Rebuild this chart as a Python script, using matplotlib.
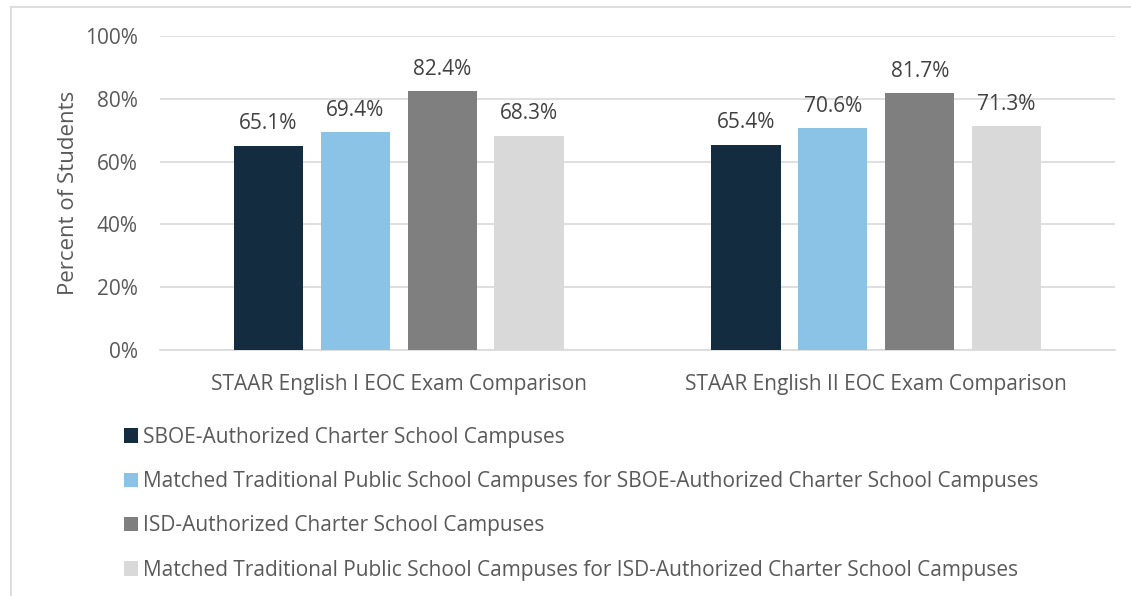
import matplotlib.pyplot as plt
from matplotlib.lines import Line2D
from matplotlib.patches import Patch
import numpy as np

plt.rcParams["font.family"] = ["Open Sans", "DejaVu Sans"]

categories = ["STAAR English I EOC Exam Comparison", "STAAR English II EOC Exam Comparison"]
series_names = [
    "SBOE-Authorized Charter School Campuses",
    "Matched Traditional Public School Campuses for SBOE-Authorized Charter School Campuses",
    "ISD-Authorized Charter School Campuses",
    "Matched Traditional Public School Campuses for ISD-Authorized Charter School Campuses",
]
sboe = [65.1, 65.4]
sboe_matched = [69.4, 70.6]
isd = [82.4, 81.7]
isd_matched = [68.3, 71.3]
yticks = [0, 20, 40, 60, 80, 100]

colors = ["#132C3F", "#8BC3E6", "#7F7F7F", "#D9D9D9"]
text_color = "#595959"
grid_color = "#D9D9D9"

W, H = 1131, 596
fig = plt.figure(figsize=(W / 100, H / 100), dpi=100)
ax = fig.add_axes([160 / W, (H - 350) / H, (1115 - 160) / W, (350 - 36) / H])

x = np.arange(len(categories))
step = 0.182
width = 0.145
all_series = [sboe, sboe_matched, isd, isd_matched]
for i, (vals, c) in enumerate(zip(all_series, colors)):
    pos = x + (i - 1.5) * step
    bars = ax.bar(pos, vals, width=width, color=c, zorder=3)
    for b, v in zip(bars, vals):
        ax.text(b.get_x() + b.get_width() / 2, v + 3.6, f"{v:.1f}%",
                ha="center", va="bottom", fontsize=15, color="#404040")

ax.set_xlim(-0.5, 1.5)
ax.set_ylim(0, 100)
ax.set_yticks(yticks)
ax.set_yticklabels([f"{t}%" for t in yticks])
ax.set_xticks(x)
ax.set_xticklabels(categories)
ax.tick_params(axis="both", length=0, labelsize=15, colors=text_color)
ax.tick_params(axis="y", pad=16)
ax.tick_params(axis="x", pad=17)
ax.grid(axis="y", color=grid_color, linewidth=1.2, zorder=0)
for s in ["top", "right", "left"]:
    ax.spines[s].set_visible(False)
ax.spines["bottom"].set_color(grid_color)
ax.spines["bottom"].set_linewidth(1.2)
ax.set_ylabel("Percent of Students", fontsize=16, color=text_color, labelpad=4)

handles = [Patch(facecolor=c, edgecolor="none") for c in colors]
fig.legend(handles, series_names, loc="upper left",
           bbox_to_anchor=(105 / W, 1 - 408 / H), frameon=False,
           fontsize=15, labelcolor=text_color, handlelength=0.68,
           handleheight=0.68, handletextpad=0.25, labelspacing=1.12)

# chart border (left and top edges visible)
fig.add_artist(Line2D([11 / W, 11 / W], [0, 1 - 7 / H], color="#D9D9D9", linewidth=1.2))
fig.add_artist(Line2D([11 / W, 1], [1 - 7 / H, 1 - 7 / H], color="#D9D9D9", linewidth=1.2))

fig.savefig("out.png", dpi=100)
